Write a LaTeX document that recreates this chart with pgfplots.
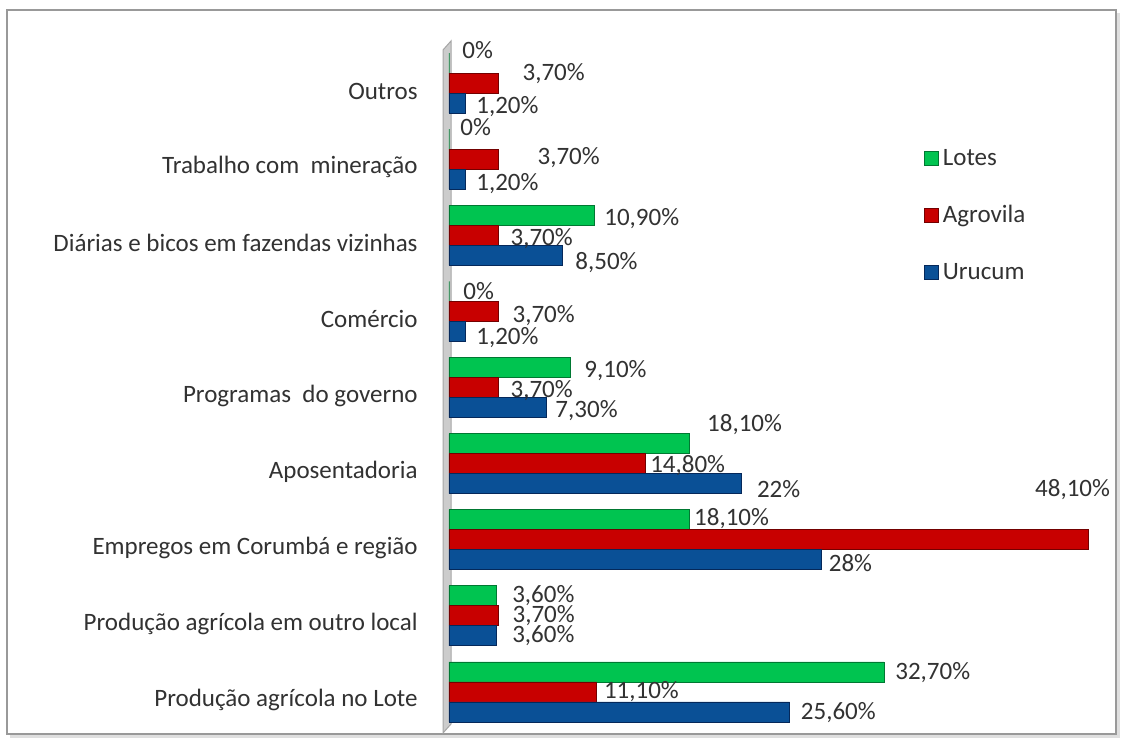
\documentclass[border=0pt]{standalone}
\usepackage{pgfplots}
\pgfplotsset{compat=1.18}
\usepackage{pgfplotstable}
\usepackage{fontspec}
\setmainfont{Carlito}
\definecolor{cg}{RGB}{0,196,80}
\definecolor{cgd}{RGB}{0,120,50}
\definecolor{cr}{RGB}{200,0,0}
\definecolor{crd}{RGB}{115,0,0}
\definecolor{cb}{RGB}{10,80,150}
\definecolor{cbd}{RGB}{5,40,90}
\definecolor{txt}{RGB}{50,50,50}
\newcommand{\lblfont}{\fontsize{12.5}{15}\selectfont}

% y = category index (0 = bottom), x = percent, lab = label, dx/dy = label offsets (px)
\pgfplotstableread{
y x lab dx dy
0 32.7 32,70 11 -1
1 3.6 3,60 15 0
2 18.1 18,10 4 1
3 18.1 18,10 17 19
4 9.1 9,10 14 -3
5 0 0 14 0
6 10.9 10,90 10 -3
7 0 0 11 12
8 0 0 13 13
}\lotes
\pgfplotstableread{
y x lab dx dy
0 11.1 11,10 7 0
1 3.7 3,70 14 0
2 48.1 48,10 -54 50
3 14.8 14,80 4 -2
4 3.7 3,70 12 -3
5 3.7 3,70 14 -4
6 3.7 3,70 12 -3
7 3.7 3,70 39 2
8 3.7 3,70 24 9
}\agrovila
\pgfplotstableread{
y x lab dx dy
0 25.6 25,60 11 -1
1 3.6 3,60 15 0
2 28 28 7 -3
3 22 22 15 -5
4 7.3 7,30 9 -3
5 1.2 1,20 11 -6
6 8.5 8,50 13 -7
7 1.2 1,20 11 -4
8 1.2 1,20 11 -4
}\urucum

\begin{document}
\begin{tikzpicture}
\path (0,0) rectangle (560.5pt,370pt);
\fill[white] (3.5pt,3pt) rectangle (558pt,365pt);
\draw[gray!25, line width=1.2pt] (5pt,1.8pt) -- (559.2pt,1.8pt) -- (559.2pt,363.5pt);
\draw[gray!80, line width=0.9pt] (3.5pt,3pt) rectangle (558pt,365pt);
% back wall
\fill[gray!40] (221.5pt,345pt) -- (225.5pt,349.5pt) -- (225.5pt,8pt) -- (221.5pt,3.5pt) -- cycle;
\draw[gray!70, line width=0.5pt] (221.5pt,345pt) -- (225.5pt,349.5pt) -- (225.5pt,8pt) -- (221.5pt,3.5pt) -- cycle;
\begin{axis}[
  at={(224.5pt,5pt)}, anchor=south west,
  scale only axis, width=319.9pt, height=342.5pt,
  xmin=0, xmax=48.1, ymin=-0.5, ymax=8.5,
  enlargelimits=false, clip=false,
  axis line style={draw=none},
  xtick=\empty,
  ytick={0,1,2,3,4,5,6,7,8},
  yticklabels={Produção agrícola no Lote, Produção agrícola em outro local, Empregos em Corumbá e região, Aposentadoria, Programas~ do governo, Comércio, Diárias e bicos em fazendas vizinhas, Trabalho com~ mineração, Outros},
  major tick length=0pt,
  yticklabel style={font=\lblfont, text=txt, anchor=east, inner sep=0pt, xshift=-15.5pt, yshift=-4pt},
  xbar, bar width=0.263,
  point meta=explicit symbolic,
  nodes near coords={\pgfplotspointmeta\%},
  visualization depends on={\thisrow{dx}\as\labdx},
  visualization depends on={\thisrow{dy}\as\labdy},
  nodes near coords style={anchor=west, inner sep=0pt, font=\lblfont, text=txt, xshift=\labdx*0.5pt, yshift=\labdy*0.5pt},
  legend style={at={(0.742,0.857)}, anchor=north west, draw=none, fill=none, inner sep=0pt, row sep=13pt,
    nodes={font=\lblfont, text=txt, text height=9pt, text depth=2.5pt, inner sep=2pt}},
  legend image code/.code={\fill[#1] (-0.5pt,-3.5pt) rectangle (6.5pt,3.5pt);},
  legend cell align=left,
]
\addplot[fill=cg, draw=cgd, line width=0.4pt, bar shift=0.263] table[x=x, y=y, meta=lab] {\lotes};
\addplot[fill=cr, draw=crd, line width=0.4pt, bar shift=0] table[x=x, y=y, meta=lab] {\agrovila};
\addplot[fill=cb, draw=cbd, line width=0.4pt, bar shift=-0.263] table[x=x, y=y, meta=lab] {\urucum};
\legend{Lotes, Agrovila, Urucum}
\end{axis}
\end{tikzpicture}
\end{document}
